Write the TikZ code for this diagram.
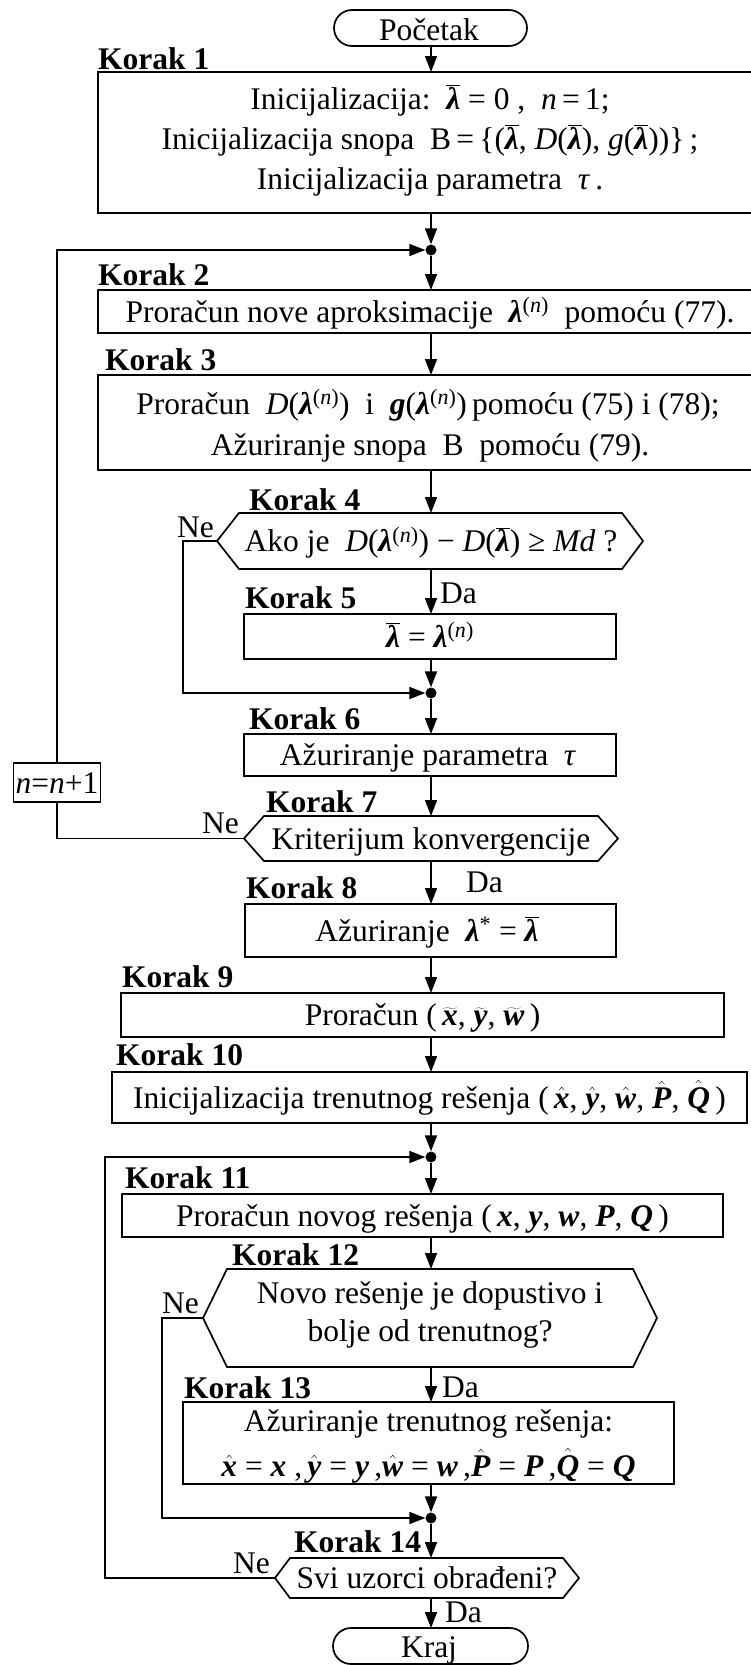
\documentclass[tikz,border=0pt]{standalone}
\usepackage{fontspec}
\setmainfont{Liberation Serif}
\usetikzlibrary{arrows.meta,calc}
\newcommand\xlam{\textbf{\textit{λ}}}
\newcommand\xlbar{\ensuremath{\overline{\hbox{\xlam}}}}
\newcommand\xsn{\textsuperscript{(\textit{n})}}
\newcommand\xbi[1]{\textbf{\textit{#1}}}
\newcommand\xbh[1]{\ensuremath{\hat{\hbox{\xbi{#1}}}}}
\newcommand\xbt[1]{\ensuremath{\widetilde{\hbox{\xbi{#1}}}}}
\begin{document}
\begin{tikzpicture}[x=1pt,y=-1pt,
  every node/.style={font=\fontsize{31.5}{40}\selectfont},
  box/.style={draw, line width=1.7pt, inner sep=0pt, outer sep=0pt},
  term/.style={box, rounded corners=18pt},
  hexn/.style={inner sep=0pt, outer sep=0pt},
  dotn/.style={circle, fill, inner sep=0pt, minimum size=11pt},
  txt/.style={anchor=base, inner sep=0pt},
  kor/.style={anchor=base west, inner sep=0pt, font=\fontsize{31.5}{40}\selectfont\bfseries},
  lab/.style={anchor=base west, inner sep=0pt},
  arr/.style={line width=1.7pt, -{Triangle[length=16pt,width=12pt]}},
  ln/.style={line width=1.7pt}]
\useasboundingbox (0,0) rectangle (750,1665);
\coordinate (fl) at (431,0);

% terminals and boxes
\node[term, minimum width=193pt, minimum height=36pt] (start) at (430.5,28) {};
\node[box, minimum width=657pt, minimum height=141pt] (k1) at (426.5,142.5) {};
\node[box, minimum width=657pt, minimum height=43pt] (k2) at (426.5,311.5) {};
\node[box, minimum width=657pt, minimum height=95pt] (k3) at (426.5,422.5) {};
\node[hexn, minimum width=383pt, minimum height=56pt] (h4) at (430.5,541) {};
\node[box, minimum width=372pt, minimum height=45pt] (k5) at (430,636.5) {};
\node[box, minimum width=372pt, minimum height=42pt] (k6) at (430,755) {};
\node[box, minimum width=87pt, minimum height=39pt] (nb) at (57,782.5) {};
\node[hexn, minimum width=334pt, minimum height=45pt] (h7) at (431,838.5) {};
\node[box, minimum width=371pt, minimum height=53pt] (k8) at (430.5,930.5) {};
\node[box, minimum width=603pt, minimum height=44pt] (k9) at (422.5,1015) {};
\node[box, minimum width=635pt, minimum height=51pt] (k10) at (429.5,1097.5) {};
\node[box, minimum width=601pt, minimum height=43pt] (k11) at (422.5,1215.5) {};
\node[hexn, minimum width=406pt, minimum height=98pt] (h12) at (430,1318) {};
\node[box, minimum width=491pt, minimum height=82pt] (k13) at (428.5,1443) {};
\node[hexn, minimum width=273pt, minimum height=40pt] (h14) at (426.5,1578) {};
\node[term, minimum width=195pt, minimum height=36pt] (kraj) at (430.5,1646) {};

% hexagon outlines
\draw[ln] (h4.north west) -- (h4.north east) -- ($(h4.east)+(21,0)$) -- (h4.south east) -- (h4.south west) -- ($(h4.west)+(-22,0)$) -- cycle;
\draw[ln] (h7.north west) -- (h7.north east) -- ($(h7.east)+(20,0)$) -- (h7.south east) -- (h7.south west) -- ($(h7.west)+(-20,0)$) -- cycle;
\draw[ln] (h12.north west) -- (h12.north east) -- ($(h12.east)+(24,0)$) -- (h12.south east) -- (h12.south west) -- ($(h12.west)+(-24,0)$) -- cycle;
\draw[ln] (h14.north west) -- (h14.north east) -- ($(h14.east)+(16,0)$) -- (h14.south east) -- (h14.south west) -- ($(h14.west)+(-15,0)$) -- cycle;
\coordinate (h4p) at ($(h4.west)+(-22,0)$);
\coordinate (h7p) at ($(h7.west)+(-20,0)$);
\coordinate (h12p) at ($(h12.west)+(-24,0)$);
\coordinate (h14p) at ($(h14.west)+(-15,0)$);

% junctions
\node[dotn] (j1) at (431,250) {};
\node[dotn] (j2) at (431,693) {};
\node[dotn] (j3) at (431,1157) {};
\node[dotn] (j4) at (431,1518) {};

% texts
\node[txt] (tstart) at (429,40) {Početak};
\node[txt] (t1a) at (430,109) {Inicijalizacija:\ \ \xlbar\ = 0 ,\ \ \textit{n}\,=\,1;};
\node[txt] (t1b) at (430,149) {Inicijalizacija snopa\ \ B\,=\,\{(\xlbar, \textit{D}(\xlbar), \textit{g}(\xlbar))\}\,;};
\node[txt] (t1c) at (430,189) {Inicijalizacija parametra\ \ \textit{τ}\,.};
\node[txt] (t2) at (430,322) {Proračun nove aproksimacije\ \ \xlam\xsn\ \ pomoću (77).};
\node[txt] (t3a) at (428,414) {Proračun\ \ \textit{D}(\xlam\xsn)\ \ i\ \ \xbi{g}(\xlam\xsn)\,pomoću (75) i (78);};
\node[txt] (t3b) at (430,455) {Ažuriranje snopa\ \ B\ \ pomoću (79).};
\node[txt] (t4) at (431,551.5) {Ako je\ \ \textit{D}(\xlam\xsn) − \textit{D}(\xlbar) ≥ \textit{Md}\ ?};
\node[txt] (t5) at (430,647) {\xlbar\ = \xlam\xsn};
\node[txt] (t6) at (428,765.5) {Ažuriranje parametra\ \ \textit{τ}};
\node[txt] (tn) at (57,793) {\textit{n}=\textit{n}+1};
\node[txt] (t7) at (431,849) {Kriterijum konvergencije};
\node[txt] (t8) at (427,941) {Ažuriranje\ \ \xlam\textsuperscript{*} = \xlbar};
\node[txt] (t9) at (422.5,1025.5) {Proračun (\,\xbt{x}, \xbt{y}, \xbt{w}\,)};
\node[txt] (t10) at (429.5,1108) {Inicijalizacija trenutnog rešenja (\,\xbh{x}, \xbh{y}, \xbh{w}, \xbh{P}, \xbh{Q}\,)};
\node[txt] (t11) at (422.5,1226) {Proračun novog rešenja (\,\xbi{x}, \xbi{y}, \xbi{w}, \xbi{P}, \xbi{Q}\,)};
\node[txt] (t12a) at (430,1303) {Novo rešenje je dopustivo i};
\node[txt] (t12b) at (430,1341) {bolje od trenutnog?};
\node[txt] (t13a) at (428.5,1431) {Ažuriranje trenutnog rešenja:};
\node[txt] (t13b) at (428.5,1476) {\xbh{x} = \xbi{x}\ ,\,\xbh{y} = \xbi{y}\,,\xbh{w} = \xbi{w}\,,\xbh{P} = \xbi{P}\,,\xbh{Q} = \xbi{Q}};
\node[txt] (t14) at (427,1588.5) {Svi uzorci obrađeni?};
\node[txt] (tkraj) at (429,1657) {Kraj};

% step labels
\node[kor] (l1) at (98,69) {Korak 1};
\node[kor] (l2) at (98,285) {Korak 2};
\node[kor] (l3) at (105,370) {Korak 3};
\node[kor] (l4) at (249,510) {Korak 4};
\node[kor] (l5) at (245,608) {Korak 5};
\node[kor] (l6) at (249,729) {Korak 6};
\node[kor] (l7) at (266,812) {Korak 7};
\node[kor] (l8) at (246,898) {Korak 8};
\node[kor] (l9) at (122,987) {Korak 9};
\node[kor] (l10) at (116,1065) {Korak 10};
\node[kor] (l11) at (125,1188) {Korak 11};
\node[kor] (l12) at (232,1265) {Korak 12};
\node[kor] (l13) at (184,1398) {Korak 13};
\node[kor] (l14) at (294,1552) {Korak 14};

% Ne / Da labels
\node[lab] (ne4) at (177,537) {Ne};
\node[lab] (ne7) at (202,833) {Ne};
\node[lab] (ne12) at (162,1313) {Ne};
\node[lab] (ne14) at (233,1573) {Ne};
\node[lab] (da4) at (440,603) {Da};
\node[lab] (da7) at (466,892) {Da};
\node[lab] (da12) at (442,1397) {Da};
\node[lab] (da14) at (445,1622) {Da};

% main flow
\draw[arr] (start.south -| fl) -- (k1.north -| fl);
\draw[arr] (k1.south -| fl) -- (j1);
\draw[arr] (j1) -- (k2.north -| fl);
\draw[arr] (k2.south -| fl) -- (k3.north -| fl);
\draw[arr] (k3.south -| fl) -- (h4.north -| fl);
\draw[arr] (h4.south -| fl) -- (k5.north -| fl);
\draw[arr] (k5.south -| fl) -- (j2);
\draw[arr] (j2) -- (k6.north -| fl);
\draw[arr] (k6.south -| fl) -- (h7.north -| fl);
\draw[arr] (h7.south -| fl) -- (k8.north -| fl);
\draw[arr] (k8.south -| fl) -- (k9.north -| fl);
\draw[arr] (k9.south -| fl) -- (k10.north -| fl);
\draw[arr] (k10.south -| fl) -- (j3);
\draw[arr] (j3) -- (k11.north -| fl);
\draw[arr] (k11.south -| fl) -- (h12.north -| fl);
\draw[arr] (h12.south -| fl) -- (k13.north -| fl);
\draw[arr] (k13.south -| fl) -- (j4);
\draw[arr] (j4) -- (h14.north -| fl);
\draw[arr] (h14.south -| fl) -- (kraj.north -| fl);

% loops
\coordinate (c4) at (183,541);
\coordinate (c12) at (162,1318);
\coordinate (c14) at (105,1578);
\draw[arr] (h4p) -- (c4) |- (j2);
\draw[ln] (h7p) -| (nb.south);
\draw[arr] (nb.north) |- (j1);
\draw[arr] (h12p) -- (c12) |- (j4);
\draw[arr] (h14p) -- (c14) |- (j3);
\end{tikzpicture}
\end{document}
